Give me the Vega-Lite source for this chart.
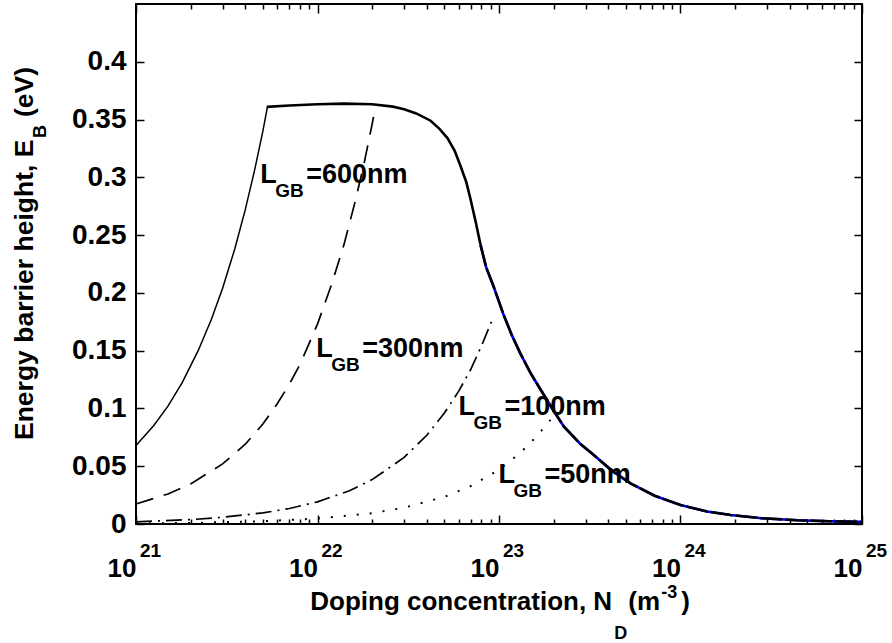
{
  "$schema": "https://vega.github.io/schema/vega-lite/v6.json",
  "width": 726,
  "height": 520,
  "autosize": {"type": "none"},
  "padding": {"left": 136, "top": 4, "right": 30, "bottom": 119},
  "background": "white",
  "config": {
    "view": {"stroke": "black", "strokeWidth": 2},
    "font": "Liberation Sans",
    "text": {"font": "Liberation Sans", "color": "black", "fontWeight": "bold"}
  },
  "datasets": {
    "curves": [
      {"s": "common", "N": 5.25e21, "E": 0.3610},
      {"s": "common", "N": 7e21, "E": 0.3622},
      {"s": "common", "N": 1e22, "E": 0.3633},
      {"s": "common", "N": 1.4e22, "E": 0.3638},
      {"s": "common", "N": 2e22, "E": 0.3632},
      {"s": "common", "N": 2.6e22, "E": 0.3612},
      {"s": "common", "N": 3e22, "E": 0.3590},
      {"s": "common", "N": 3.5e22, "E": 0.3553},
      {"s": "common", "N": 4.2e22, "E": 0.3490},
      {"s": "common", "N": 4.7e22, "E": 0.3420},
      {"s": "common", "N": 5.2e22, "E": 0.3340},
      {"s": "common", "N": 5.7e22, "E": 0.3230},
      {"s": "common", "N": 6.13e22, "E": 0.3100},
      {"s": "common", "N": 6.6e22, "E": 0.2960},
      {"s": "common", "N": 6.97e22, "E": 0.2810},
      {"s": "common", "N": 7.45e22, "E": 0.2610},
      {"s": "common", "N": 7.9e22, "E": 0.2420},
      {"s": "common", "N": 8.5e22, "E": 0.2220},
      {"s": "common", "N": 9.35e22, "E": 0.2053},
      {"s": "common", "N": 1.06e23, "E": 0.1810},
      {"s": "common", "N": 1.18e23, "E": 0.1630},
      {"s": "common", "N": 1.31e23, "E": 0.1477},
      {"s": "common", "N": 1.5e23, "E": 0.1300},
      {"s": "common", "N": 1.7e23, "E": 0.1160},
      {"s": "common", "N": 2e23, "E": 0.0980},
      {"s": "common", "N": 2.28e23, "E": 0.0842},
      {"s": "common", "N": 2.8e23, "E": 0.0695},
      {"s": "common", "N": 3.33e23, "E": 0.0597},
      {"s": "common", "N": 4.2e23, "E": 0.0460},
      {"s": "common", "N": 5.3e23, "E": 0.0352},
      {"s": "common", "N": 7.2e23, "E": 0.0245},
      {"s": "common", "N": 1e24, "E": 0.0164},
      {"s": "common", "N": 1.4e24, "E": 0.0108},
      {"s": "common", "N": 1.89e24, "E": 0.0078},
      {"s": "common", "N": 2.8e24, "E": 0.0050},
      {"s": "common", "N": 4.4e24, "E": 0.0033},
      {"s": "common", "N": 6.6e24, "E": 0.0024},
      {"s": "common", "N": 1e25, "E": 0.0018},
      {"s": "600", "N": 1e21, "E": 0.068},
      {"s": "600", "N": 1.25e21, "E": 0.085},
      {"s": "600", "N": 1.5e21, "E": 0.102},
      {"s": "600", "N": 1.8e21, "E": 0.1225},
      {"s": "600", "N": 2.2e21, "E": 0.150},
      {"s": "600", "N": 2.6e21, "E": 0.177},
      {"s": "600", "N": 3e21, "E": 0.204},
      {"s": "600", "N": 3.5e21, "E": 0.238},
      {"s": "600", "N": 4e21, "E": 0.272},
      {"s": "600", "N": 4.5e21, "E": 0.306},
      {"s": "600", "N": 5e21, "E": 0.340},
      {"s": "600", "N": 5.3e21, "E": 0.361},
      {"s": "300", "N": 1e21, "E": 0.0173},
      {"s": "300", "N": 1.5e21, "E": 0.026},
      {"s": "300", "N": 2e21, "E": 0.0346},
      {"s": "300", "N": 3e21, "E": 0.052},
      {"s": "300", "N": 4e21, "E": 0.069},
      {"s": "300", "N": 5e21, "E": 0.0865},
      {"s": "300", "N": 6e21, "E": 0.104},
      {"s": "300", "N": 7e21, "E": 0.121},
      {"s": "300", "N": 8e21, "E": 0.138},
      {"s": "300", "N": 1e22, "E": 0.173},
      {"s": "300", "N": 1.2e22, "E": 0.208},
      {"s": "300", "N": 1.4e22, "E": 0.242},
      {"s": "300", "N": 1.6e22, "E": 0.277},
      {"s": "300", "N": 1.8e22, "E": 0.311},
      {"s": "300", "N": 2e22, "E": 0.346},
      {"s": "300", "N": 2.08e22, "E": 0.360},
      {"s": "100", "N": 1e21, "E": 0.0019},
      {"s": "100", "N": 2e21, "E": 0.0038},
      {"s": "100", "N": 3e21, "E": 0.0058},
      {"s": "100", "N": 5e21, "E": 0.0096},
      {"s": "100", "N": 7e21, "E": 0.0134},
      {"s": "100", "N": 1e22, "E": 0.0192},
      {"s": "100", "N": 1.5e22, "E": 0.0288},
      {"s": "100", "N": 2e22, "E": 0.0384},
      {"s": "100", "N": 3e22, "E": 0.0576},
      {"s": "100", "N": 4e22, "E": 0.0768},
      {"s": "100", "N": 5e22, "E": 0.0960},
      {"s": "100", "N": 6e22, "E": 0.1150},
      {"s": "100", "N": 7e22, "E": 0.1340},
      {"s": "100", "N": 8e22, "E": 0.1540},
      {"s": "100", "N": 9.2e22, "E": 0.1770},
      {"s": "50", "N": 1e21, "E": 0.00047},
      {"s": "50", "N": 2e21, "E": 0.00094},
      {"s": "50", "N": 5e21, "E": 0.0024},
      {"s": "50", "N": 1e22, "E": 0.0047},
      {"s": "50", "N": 2e22, "E": 0.0094},
      {"s": "50", "N": 3e22, "E": 0.0141},
      {"s": "50", "N": 5e22, "E": 0.0235},
      {"s": "50", "N": 7e22, "E": 0.0329},
      {"s": "50", "N": 1e23, "E": 0.047},
      {"s": "50", "N": 1.3e23, "E": 0.0611},
      {"s": "50", "N": 1.6e23, "E": 0.0752},
      {"s": "50", "N": 1.92e23, "E": 0.0902}
    ],
    "labels": [
      {"N": 4.83e21, "E": 0.2951, "v": "=600nm"},
      {"N": 9.84e21, "E": 0.1445, "v": "=300nm"},
      {"N": 5.98e22, "E": 0.0943, "v": "=100nm"},
      {"N": 9.93e22, "E": 0.0355, "v": "=50nm"}
    ],
    "exps": [
      {"N": 1e21, "t": "21"},
      {"N": 1e22, "t": "22"},
      {"N": 1e23, "t": "23"},
      {"N": 1e24, "t": "24"},
      {"N": 1e25, "t": "25"}
    ]
  },
  "resolve": {"axis": {"x": "independent", "y": "independent"}},
  "layer": [
    {
      "data": {"name": "curves"},
      "transform": [{"filter": "datum.s == 'common' && datum.N >= 7.9e22"}],
      "mark": {"type": "line", "color": "#0000ff", "strokeWidth": 2.6},
      "encoding": {
        "x": {"field": "N", "type": "quantitative", "scale": {"type": "log", "domain": [1e21, 1e25]},
          "axis": {"orient": "bottom", "values": [2e21,3e21,4e21,5e21,6e21,7e21,8e21,9e21,2e22,3e22,4e22,5e22,6e22,7e22,8e22,9e22,2e23,3e23,4e23,5e23,6e23,7e23,8e23,9e23,2e24,3e24,4e24,5e24,6e24,7e24,8e24,9e24],
            "labels": false, "tickSize": -5, "tickColor": "black", "tickWidth": 1.5, "domain": false, "grid": false, "title": null}},
        "y": {"field": "E", "type": "quantitative", "scale": {"domain": [0, 0.45], "nice": false, "zero": false}, "axis": null}
      }
    },
    {
      "data": {"name": "curves"},
      "transform": [{"filter": "datum.s == 'common' && datum.N <= 7.9e22"}],
      "mark": {"type": "line", "color": "black", "strokeWidth": 2.6},
      "encoding": {
        "x": {"field": "N", "type": "quantitative", "scale": {"type": "log", "domain": [1e21, 1e25]},
          "axis": {"orient": "bottom", "values": [1e21, 1e22, 1e23, 1e24, 1e25], "labelExpr": "'10'",
            "labelFont": "Liberation Sans", "labelFontWeight": "bold", "labelFontSize": 26, "labelColor": "black",
            "labelAlign": "right", "labelBaseline": "alphabetic", "labelDx": 3, "labelPadding": 61,
            "labelFlush": false, "labelOverlap": false,
            "tickSize": -9, "tickColor": "black", "tickWidth": 1.5, "domain": false, "grid": false, "title": null}},
        "y": {"field": "E", "type": "quantitative", "scale": {"domain": [0, 0.45], "nice": false, "zero": false},
          "axis": {"orient": "left", "values": [0, 0.05, 0.1, 0.15, 0.2, 0.25, 0.3, 0.35, 0.4], "format": "~g",
            "labelFont": "Liberation Sans", "labelFontWeight": "bold", "labelFontSize": 28, "labelColor": "black",
            "labelPadding": 18, "labelFlush": false, "labelOverlap": false,
            "tickSize": -8, "tickColor": "black", "tickWidth": 1.5, "domain": false, "grid": false, "title": null}}
      }
    },
    {
      "data": {"name": "curves"},
      "transform": [{"filter": "datum.s == 'common' && datum.N >= 7.9e22"}],
      "mark": {"type": "line", "color": "black", "strokeWidth": 2.6, "strokeDash": [22, 3]},
      "encoding": {
        "x": {"field": "N", "type": "quantitative", "scale": {"type": "log", "domain": [1e21, 1e25]},
          "axis": {"orient": "top", "values": [1e21, 1e22, 1e23, 1e24, 1e25], "labels": false,
            "tickSize": -9, "tickColor": "black", "tickWidth": 1.5, "domain": false, "grid": false, "title": null}},
        "y": {"field": "E", "type": "quantitative", "scale": {"domain": [0, 0.45], "nice": false, "zero": false},
          "axis": {"orient": "right", "values": [0, 0.05, 0.1, 0.15, 0.2, 0.25, 0.3, 0.35, 0.4], "labels": false,
            "tickSize": -8, "tickColor": "black", "tickWidth": 1.5, "domain": false, "grid": false, "title": null}}
      }
    },
    {
      "data": {"name": "curves"},
      "transform": [{"filter": "datum.s == '600'"}],
      "mark": {"type": "line", "color": "black", "strokeWidth": 1.5},
      "encoding": {
        "x": {"field": "N", "type": "quantitative", "scale": {"type": "log", "domain": [1e21, 1e25]},
          "axis": {"orient": "top", "values": [2e21,3e21,4e21,5e21,6e21,7e21,8e21,9e21,2e22,3e22,4e22,5e22,6e22,7e22,8e22,9e22,2e23,3e23,4e23,5e23,6e23,7e23,8e23,9e23,2e24,3e24,4e24,5e24,6e24,7e24,8e24,9e24],
            "labels": false, "tickSize": -5, "tickColor": "black", "tickWidth": 1.5, "domain": false, "grid": false, "title": null}},
        "y": {"field": "E", "type": "quantitative", "scale": {"domain": [0, 0.45], "nice": false, "zero": false}, "axis": null}
      }
    },
    {
      "data": {"name": "curves"},
      "transform": [{"filter": "datum.s == '300'"}],
      "mark": {"type": "line", "color": "black", "strokeWidth": 1.7, "strokeDash": [18, 11]},
      "encoding": {
        "x": {"field": "N", "type": "quantitative", "scale": {"type": "log", "domain": [1e21, 1e25]}, "axis": null},
        "y": {"field": "E", "type": "quantitative", "scale": {"domain": [0, 0.45], "nice": false, "zero": false}, "axis": null}
      }
    },
    {
      "data": {"name": "curves"},
      "transform": [{"filter": "datum.s == '100'"}],
      "mark": {"type": "line", "color": "black", "strokeWidth": 1.7, "strokeDash": [16, 6, 2, 6]},
      "encoding": {
        "x": {"field": "N", "type": "quantitative", "scale": {"type": "log", "domain": [1e21, 1e25]}, "axis": null},
        "y": {"field": "E", "type": "quantitative", "scale": {"domain": [0, 0.45], "nice": false, "zero": false}, "axis": null}
      }
    },
    {
      "data": {"name": "curves"},
      "transform": [{"filter": "datum.s == '50'"}],
      "mark": {"type": "line", "color": "black", "strokeWidth": 2, "strokeDash": [2, 11]},
      "encoding": {
        "x": {"field": "N", "type": "quantitative", "scale": {"type": "log", "domain": [1e21, 1e25]}, "axis": null},
        "y": {"field": "E", "type": "quantitative", "scale": {"domain": [0, 0.45], "nice": false, "zero": false}, "axis": null}
      }
    },
    {
      "data": {"name": "labels"},
      "mark": {"type": "text", "text": "L", "fontSize": 27, "align": "left", "baseline": "alphabetic"},
      "encoding": {
        "x": {"field": "N", "type": "quantitative", "axis": null},
        "y": {"field": "E", "type": "quantitative", "axis": null}
      }
    },
    {
      "data": {"name": "labels"},
      "mark": {"type": "text", "text": "GB", "fontSize": 19, "align": "left", "baseline": "alphabetic", "dx": 15, "dy": 14},
      "encoding": {
        "x": {"field": "N", "type": "quantitative", "axis": null},
        "y": {"field": "E", "type": "quantitative", "axis": null}
      }
    },
    {
      "data": {"name": "labels"},
      "mark": {"type": "text", "fontSize": 27, "align": "left", "baseline": "alphabetic", "dx": 46},
      "encoding": {
        "x": {"field": "N", "type": "quantitative", "axis": null},
        "y": {"field": "E", "type": "quantitative", "axis": null},
        "text": {"field": "v"}
      }
    },
    {
      "data": {"name": "exps"},
      "mark": {"type": "text", "fontSize": 19, "align": "left", "baseline": "alphabetic", "dx": 4, "dy": 33},
      "encoding": {
        "x": {"field": "N", "type": "quantitative", "axis": null},
        "y": {"datum": 0, "type": "quantitative", "axis": null},
        "text": {"field": "t"}
      }
    },
    {
      "data": {"values": [{"t": "Doping concentration, N"}]},
      "mark": {"type": "text", "fontSize": 26, "align": "left", "baseline": "alphabetic", "dy": 86},
      "encoding": {
        "x": {"datum": 9.12e21, "type": "quantitative", "axis": null},
        "y": {"datum": 0, "type": "quantitative", "axis": null},
        "text": {"field": "t"}
      }
    },
    {
      "data": {"values": [{"t": "D"}]},
      "mark": {"type": "text", "fontSize": 18, "align": "left", "baseline": "alphabetic", "dx": 304, "dy": 115},
      "encoding": {
        "x": {"datum": 9.12e21, "type": "quantitative", "axis": null},
        "y": {"datum": 0, "type": "quantitative", "axis": null},
        "text": {"field": "t"}
      }
    },
    {
      "data": {"values": [{"t": "(m"}]},
      "mark": {"type": "text", "fontSize": 26, "align": "left", "baseline": "alphabetic", "dx": 318, "dy": 86},
      "encoding": {
        "x": {"datum": 9.12e21, "type": "quantitative", "axis": null},
        "y": {"datum": 0, "type": "quantitative", "axis": null},
        "text": {"field": "t"}
      }
    },
    {
      "data": {"values": [{"t": "-3"}]},
      "mark": {"type": "text", "fontSize": 18, "align": "left", "baseline": "alphabetic", "dx": 351, "dy": 74},
      "encoding": {
        "x": {"datum": 9.12e21, "type": "quantitative", "axis": null},
        "y": {"datum": 0, "type": "quantitative", "axis": null},
        "text": {"field": "t"}
      }
    },
    {
      "data": {"values": [{"t": ")"}]},
      "mark": {"type": "text", "fontSize": 26, "align": "left", "baseline": "alphabetic", "dx": 371, "dy": 86},
      "encoding": {
        "x": {"datum": 9.12e21, "type": "quantitative", "axis": null},
        "y": {"datum": 0, "type": "quantitative", "axis": null},
        "text": {"field": "t"}
      }
    },
    {
      "data": {"values": [{"t": "Energy barrier height, E"}]},
      "mark": {"type": "text", "fontSize": 26.5, "align": "left", "baseline": "alphabetic", "angle": 270},
      "encoding": {
        "x": {"datum": 2.702e20, "type": "quantitative", "axis": null},
        "y": {"datum": 0.0727, "type": "quantitative", "axis": null},
        "text": {"field": "t"}
      }
    },
    {
      "data": {"values": [{"t": "B"}]},
      "mark": {"type": "text", "fontSize": 18, "align": "left", "baseline": "alphabetic", "angle": 270, "dx": 302, "dy": 13},
      "encoding": {
        "x": {"datum": 2.702e20, "type": "quantitative", "axis": null},
        "y": {"datum": 0.0727, "type": "quantitative", "axis": null},
        "text": {"field": "t"}
      }
    },
    {
      "data": {"values": [{"t": "(eV)"}]},
      "mark": {"type": "text", "fontSize": 26.5, "align": "left", "baseline": "alphabetic", "angle": 270, "dx": 323},
      "encoding": {
        "x": {"datum": 2.702e20, "type": "quantitative", "axis": null},
        "y": {"datum": 0.0727, "type": "quantitative", "axis": null},
        "text": {"field": "t"}
      }
    }
  ]
}
